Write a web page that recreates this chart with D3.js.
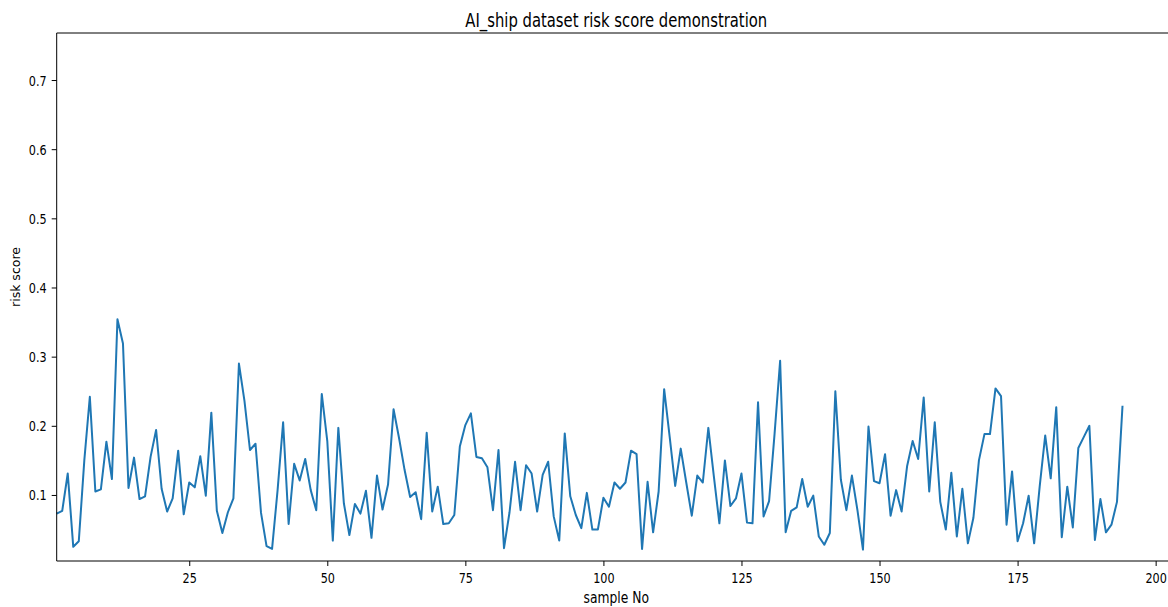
<!DOCTYPE html>
<html>
<head>
<meta charset="utf-8">
<script src="https://cdn.jsdelivr.net/npm/d3@7"></script>
<style>
  html, body { margin: 0; padding: 0; background: #fff; }
  svg { display: block; }
  text { font-family: "DejaVu Sans", sans-serif; fill: #000; }
</style>
</head>
<body>
<svg id="chart" width="1168" height="607"></svg>
<script>
// ---- data ----
const title = "AI_ship dataset risk score demonstration";
const xLabel = "sample No";
const yLabel = "risk score";
const xTicks = [25, 50, 75, 100, 125, 150, 175, 200];
const yTicks = [0.1, 0.2, 0.3, 0.4, 0.5, 0.6, 0.7];
const xDomain = [1, 203.65];
const yDomain = [0.0045, 0.768];

// sample numbers 1..194
const samples = d3.range(1, 195);
const riskScores = [
  0.073, 0.077, 0.131, 0.025, 0.033, 0.150, 0.242, 0.105, 0.108, 0.177,
  0.123, 0.354, 0.319, 0.110, 0.154, 0.094, 0.098, 0.155, 0.194, 0.109,
  0.076, 0.095, 0.164, 0.072, 0.118, 0.111, 0.156, 0.099, 0.219, 0.077,
  0.045, 0.075, 0.095, 0.290, 0.236, 0.165, 0.174, 0.074, 0.026, 0.022,
  0.107, 0.205, 0.058, 0.145, 0.121, 0.152, 0.107, 0.078, 0.246, 0.178,
  0.034, 0.197, 0.088, 0.042, 0.087, 0.073, 0.106, 0.038, 0.128, 0.079,
  0.115, 0.224, 0.182, 0.136, 0.097, 0.104, 0.065, 0.190, 0.076, 0.112,
  0.058, 0.059, 0.071, 0.170, 0.201, 0.218, 0.155, 0.153, 0.140, 0.078,
  0.165, 0.023, 0.075, 0.148, 0.078, 0.143, 0.131, 0.076, 0.129, 0.148,
  0.069, 0.034, 0.189, 0.098, 0.071, 0.052, 0.103, 0.050, 0.050, 0.096,
  0.083, 0.118, 0.109, 0.118, 0.164, 0.159, 0.022, 0.119, 0.046, 0.105,
  0.253, 0.184, 0.113, 0.167, 0.118, 0.070, 0.128, 0.118, 0.197, 0.127,
  0.059, 0.150, 0.084, 0.095, 0.131, 0.060, 0.059, 0.234, 0.069, 0.091,
  0.189, 0.294, 0.046, 0.077, 0.082, 0.123, 0.083, 0.099, 0.040, 0.028,
  0.045, 0.250, 0.122, 0.078, 0.128, 0.078, 0.021, 0.199, 0.120, 0.117,
  0.159, 0.070, 0.107, 0.076, 0.142, 0.178, 0.152, 0.241, 0.105, 0.205,
  0.090, 0.050, 0.132, 0.040, 0.109, 0.030, 0.067, 0.150, 0.188, 0.188,
  0.254, 0.243, 0.057, 0.134, 0.033, 0.059, 0.099, 0.030, 0.112, 0.186,
  0.124, 0.227, 0.039, 0.112, 0.053, 0.168, 0.184, 0.200, 0.035, 0.094,
  0.046, 0.057, 0.090, 0.229
];

// ---- layout ----
const W = 1168, H = 607;
const plot = { left: 56.7, right: 1175.8, top: 33, bottom: 561 };
const SX = 0.78; // horizontal squash of the reference rendering

const svg = d3.select("#chart");
const x = d3.scaleLinear().domain(xDomain).range([plot.left, plot.right]);
const y = d3.scaleLinear().domain(yDomain).range([plot.bottom, plot.top]);

// line
const data = samples.map((s, i) => ({ s, v: riskScores[i] }));
svg.append("path")
  .datum(data)
  .attr("fill", "none")
  .attr("stroke", "#1f77b4")
  .attr("stroke-width", 2)
  .attr("stroke-linejoin", "round")
  .attr("stroke-linecap", "butt")
  .attr("d", d3.line().x(d => x(d.s)).y(d => y(d.v)));

// axes
const xAxis = svg.append("g")
  .attr("transform", `translate(0,${plot.bottom})`)
  .call(d3.axisBottom(x).tickValues(xTicks).tickSize(5).tickSizeOuter(0).tickFormat(d3.format("d")));
const yAxis = svg.append("g")
  .attr("transform", `translate(${plot.left},0)`)
  .call(d3.axisLeft(y).tickValues(yTicks).tickSize(5).tickSizeOuter(0).tickFormat(d3.format(".1f")));

[xAxis, yAxis].forEach(g => {
  g.select(".domain").remove();
  g.selectAll(".tick line").attr("stroke", "#000").attr("stroke-width", 1);
});

// tick labels with squash
xAxis.selectAll(".tick text")
  .attr("y", null).attr("dy", null)
  .attr("font-size", 14.4)
  .attr("fill", "#111")
  .attr("text-anchor", "middle")
  .attr("transform", `translate(0,22) scale(${SX},1)`);
yAxis.selectAll(".tick text")
  .attr("x", null).attr("dy", null)
  .attr("font-size", 14.4)
  .attr("fill", "#111")
  .attr("text-anchor", "end")
  .attr("transform", `translate(-10,5) scale(${SX},1)`);

// spines (left, bottom, top; right is outside the picture)
const spine = svg.append("g").attr("stroke", "#000").attr("stroke-width", 1).attr("fill", "none");
spine.append("line").attr("x1", plot.left).attr("x2", plot.left).attr("y1", plot.top).attr("y2", plot.bottom);
spine.append("line").attr("x1", plot.left).attr("x2", plot.right).attr("y1", plot.bottom).attr("y2", plot.bottom);
spine.append("line").attr("x1", plot.left).attr("x2", plot.right).attr("y1", plot.top).attr("y2", plot.top);
spine.append("line").attr("x1", plot.right).attr("x2", plot.right).attr("y1", plot.top).attr("y2", plot.bottom);

// title
const cx = (plot.left + plot.right) / 2;
svg.append("text")
  .attr("transform", `translate(${cx},26.5) scale(${SX},1)`)
  .attr("text-anchor", "middle")
  .attr("font-size", 19)
  .text(title);

// x label
svg.append("text")
  .attr("transform", `translate(${cx},603) scale(${SX},1)`)
  .attr("text-anchor", "middle")
  .attr("font-size", 15.8)
  .text(xLabel);

// y label
svg.append("text")
  .attr("transform", `translate(20,277) rotate(-90)`)
  .attr("text-anchor", "middle")
  .attr("font-size", 12.5)
  .text(yLabel);
</script>
</body>
</html>
